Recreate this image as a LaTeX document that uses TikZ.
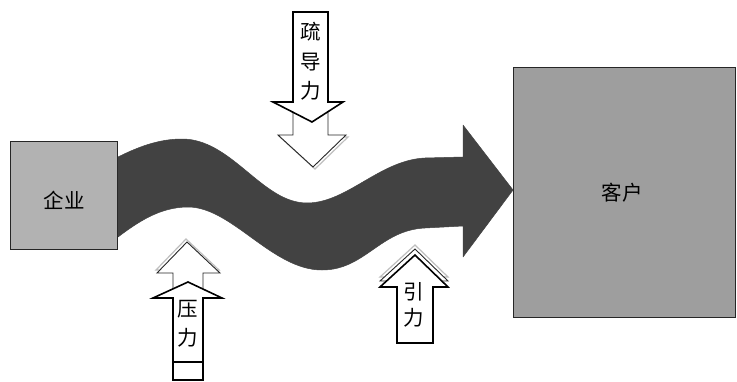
\documentclass[tikz,border=0pt]{standalone}
\usepackage{fontspec}
\setmainfont{Noto Sans CJK SC}
\begin{document}
\begin{tikzpicture}[x=1pt,y=-1pt,
  boxa/.style={draw=black!85, line width=0.9pt, fill=black!30, inner sep=0pt},
  boxb/.style={draw=black!85, line width=0.9pt, fill=black!38, inner sep=0pt},
  bigarrow/.style={fill=black!74, draw=black!74, line width=0.5pt, line join=round},
  hollow/.style={draw=black, line width=1.6pt, fill=white, line join=miter},
  ghost/.style={draw=black!85, line width=0.9pt, fill=white, line join=miter},
  ghostshade/.style={draw=black!25, line width=1.2pt, line join=miter},
  lbl/.style={font=\fontsize{20.5}{21}\selectfont, inner sep=0pt, align=center}
]
\useasboundingbox (0,0) rectangle (737,381);
\fill[white] (0,0) rectangle (737,381);

% boxes
\node[boxa, minimum width=107pt, minimum height=108pt] (qiye) at (63.5,195) {};
\node[boxb, minimum width=222pt, minimum height=250pt] (kehu) at (624,192) {};
\node[lbl] (tqiye) at (64,200) {企业};
\node[lbl] (tkehu) at (622,193) {客户};

% big wavy arrow
\path[bigarrow] (118,157) .. controls (140,146) and (160,139) .. (182,139)
  .. controls (232,139) and (262,203) .. (307,203)
  .. controls (347,203) and (380,160) .. (425,158) -- (463,157)
  -- (463,125) -- (513,190) -- (463,257) -- (463,226) -- (425,228)
  .. controls (380,230) and (365,270) .. (322,270)
  .. controls (272,270) and (232,207) .. (188,207)
  .. controls (160,207) and (138,222) .. (118,237) -- cycle;

% 疏导力 (down)
\draw[ghostshade, shift={(2,2)}] (293,135) -- (278,135) -- (313,167) -- (346,135) -- (328,135);
\draw[ghost] (293,40) -- (328,40) -- (328,135) -- (346,135) -- (313,167) -- (278,135) -- (293,135) -- cycle;
\draw[hollow] (293,12) -- (328,12) -- (328,102) -- (343,102) -- (312,122) -- (273,102) -- (293,102) -- cycle;
\node[lbl] (tshu) at (311,32) {疏};
\node[lbl] (tdao) at (311,62) {导};
\node[lbl] (tli1) at (311,91) {力};

% 压力 (up)
\draw[ghostshade, shift={(-1,-3)}] (173,273) -- (157,273) -- (187,242) -- (220,273) -- (203,273);
\draw[ghost] (173,330) -- (173,273) -- (157,273) -- (187,242) -- (220,273) -- (203,273) -- (203,330) -- cycle;
\draw[hollow] (173,362) -- (173,298) -- (153,298) -- (188,282) -- (222,298) -- (203,298) -- (203,362) -- cycle;
\draw[line width=1.2pt] (173,362) -- (173,380) -- (203,380) -- (203,362);
\node[lbl] (tya) at (188,309) {压};
\node[lbl] (tli2) at (188,338) {力};

% 引力 (up)
\draw[ghostshade, shift={(0,-10)}] (397,287) -- (380,287) -- (415,255) -- (448,287) -- (433,287);
\draw[ghost, shift={(0,-6)}] (397,300) -- (397,287) -- (380,287) -- (415,255) -- (448,287) -- (433,287) -- (433,300);
\draw[hollow] (397,343) -- (397,287) -- (380,287) -- (415,255) -- (448,287) -- (433,287) -- (433,343) -- cycle;
\node[lbl] (tyin) at (414,292) {引};
\node[lbl] (tli3) at (414,318) {力};
\end{tikzpicture}
\end{document}
